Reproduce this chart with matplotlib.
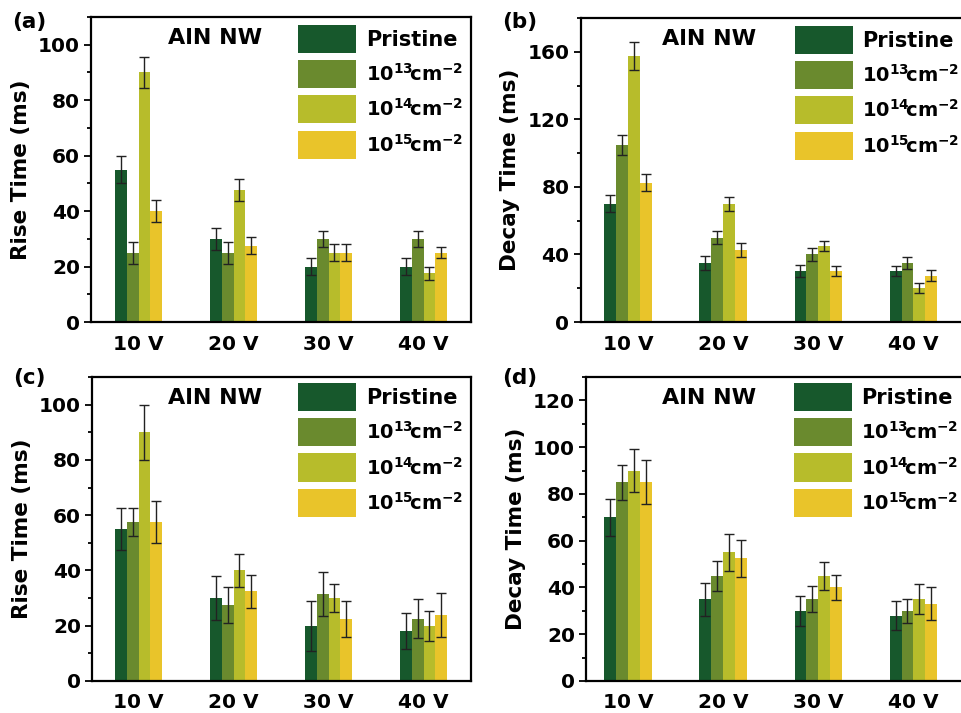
import numpy as np
import matplotlib
matplotlib.use('Agg')
from matplotlib import pyplot as plt
from matplotlib.patches import Patch
from matplotlib.ticker import MultipleLocator

plt.rcParams['font.family'] = 'DejaVu Sans'
plt.rcParams['font.weight'] = 'bold'
plt.rcParams['mathtext.fontset'] = 'dejavusans'

voltages = ['10 V', '20 V', '30 V', '40 V']
series = ['Pristine', r'$\mathbf{10^{13}\!cm^{-2}}$', r'$\mathbf{10^{14}\!cm^{-2}}$', r'$\mathbf{10^{15}\!cm^{-2}}$']
colors = ['#17582c', '#6a8a2e', '#b7bc2b', '#e9c42a']

# (a) rise time
rise_a = [[55, 30, 20, 20], [25, 25, 30, 30], [90, 47.5, 25, 17.5], [40, 27.5, 25, 25]]
rise_a_err = [[5, 4, 3, 3], [4, 4, 3, 3], [5.5, 4, 3, 2.5], [4, 3, 3, 2]]
# (b) decay time
decay_b = [[70, 35, 30, 30], [105, 50, 40, 35], [157.5, 70, 45, 20], [82.5, 42.5, 30, 27.5]]
decay_b_err = [[5, 4, 3.5, 3], [6, 4, 4, 3.5], [8, 4, 3, 3], [5, 4, 3, 3]]
# (c) rise time
rise_c = [[55, 30, 20, 18], [57.5, 27.5, 31.5, 22.5], [90, 40, 30, 20], [57.5, 32.5, 22.5, 24]]
rise_c_err = [[7.5, 8, 9, 6.5], [5, 6.5, 8, 7], [10, 6, 5, 5.5], [7.5, 6, 6.5, 8]]
# (d) decay time
decay_d = [[70, 35, 30, 28], [85, 45, 35, 30], [90, 55, 45, 35], [85, 52.5, 40, 33]]
decay_d_err = [[8, 7, 6.5, 6], [7.5, 6.5, 5.5, 5], [9, 8, 6, 6.5], [9.5, 8, 5.5, 7]]

W, H = 961., 713.
# tag, ylabel, data, err, ymax, step, axes box (px: left, top, right, bottom), xlim left, text x, legend x, legend y, tag pos
panels = [
    ('(a)', 'Rise Time (ms)', rise_a, rise_a_err, 110, 20, (91, 17, 471, 322), 0.5, 1.31, 2.68, 0.974, (12, 12)),
    ('(b)', 'Decay Time (ms)', decay_b, decay_b_err, 180, 40, (580.5, 18, 961, 322), 0.5, 1.36, 2.75, 0.974, (502, 12)),
    ('(c)', 'Rise Time (ms)', rise_c, rise_c_err, 110, 20, (92, 377, 471, 681), 0.51, 1.31, 2.68, 0.98, (13, 368)),
    ('(d)', 'Decay Time (ms)', decay_d, decay_d_err, 130, 20, (586, 377, 961, 681), 0.558, 1.36, 2.74, 0.98, (502, 368)),
]

fig = plt.figure(figsize=(W / 100, H / 100), dpi=100)
x = np.arange(1, len(voltages) + 1)
w = 0.125

for tag, ylabel, vals, errs, ymax, step, box, x0, tx, lx, ly, tpos in panels:
    l, t, r, b = box
    ax = fig.add_axes([l / W, 1 - b / H, (r - l) / W, (b - t) / H])
    for i in range(len(series)):
        ax.bar(x + (i - 1.5) * w, vals[i], w, color=colors[i], yerr=errs[i],
               error_kw=dict(ecolor='#222222', elinewidth=1, capsize=3.5, capthick=1))
    ax.set_xlim(x0, 4.5)
    ax.set_ylim(0, ymax)
    ax.set_xticks(x)
    ax.set_xticklabels(voltages)
    ax.yaxis.set_major_locator(MultipleLocator(step))
    ax.yaxis.set_minor_locator(MultipleLocator(step / 2))
    ax.tick_params(axis='y', which='major', direction='out', length=5, width=1.3, labelsize=14.5, pad=3)
    ax.tick_params(axis='y', which='minor', direction='out', length=3, width=1.3)
    ax.tick_params(axis='x', length=0, labelsize=14.5, pad=9)
    for s in ax.spines.values():
        s.set_linewidth(1.6)
    if r >= W:
        ax.spines['right'].set_visible(False)
    ax.set_ylabel(ylabel, fontsize=15.5, fontweight='bold', labelpad=5)
    for lab in ax.get_xticklabels() + ax.get_yticklabels():
        lab.set_fontweight('bold')
    ax.text(tx, 0.93, 'AlN NW', transform=ax.get_xaxis_transform(), fontsize=16, fontweight='bold',
            ha='left', va='center')
    handles = [Patch(facecolor=c) for c in colors]
    leg = ax.legend(handles, series, loc='upper left', bbox_to_anchor=(lx, ly),
                    bbox_transform=ax.get_xaxis_transform(), frameon=False,
                    handlelength=2.8, handleheight=1.7, handletextpad=0.45,
                    labelspacing=0.34, borderaxespad=0, borderpad=0,
                    prop={'weight': 'bold', 'size': 15})
    for txt in leg.get_texts()[1:]:
        txt.set_fontsize(14)
    fig.text(tpos[0] / W, 1 - tpos[1] / H, tag, fontsize=15.5, fontweight='bold',
             ha='left', va='top')

fig.savefig('out.png', dpi=100)
